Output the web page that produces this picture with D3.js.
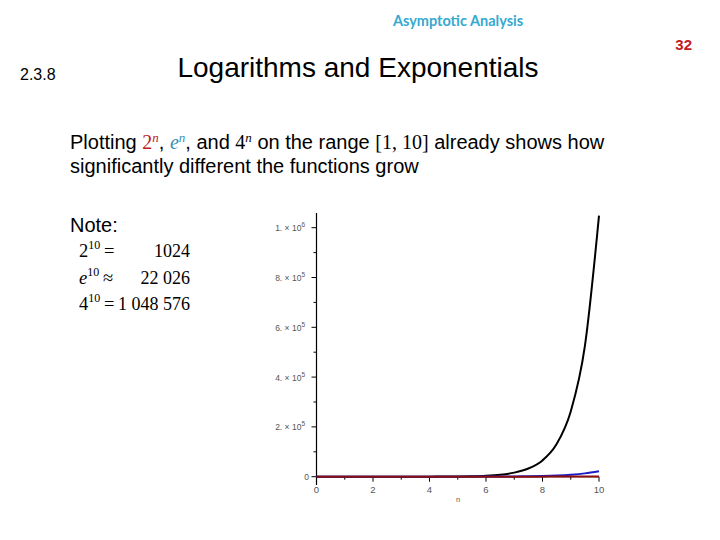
<!DOCTYPE html>
<html><head><meta charset="utf-8">
<script src="https://cdn.jsdelivr.net/npm/d3@7"></script>
<style>body{margin:0;background:#fff}svg{display:block}</style>
</head><body>
<svg id="c" width="720" height="540"></svg>
<script>
// ---- data ----
const nValues  = [0,0.5,1,1.5,2,2.5,3,3.5,4,4.5,5,5.5,6,6.5,7,7.5,8,8.5,9,9.5,10];
const twoPow   = [1,1.41,2,2.83,4,5.66,8,11.3,16,22.6,32,45.3,64,90.5,128,181,256,362,512,724,1024];
const ePow     = [1,1.65,2.72,4.48,7.39,12.2,20.1,33.1,54.6,90.0,148,245,403,665,1097,1808,2981,4915,8103,13360,22026];
const fourPow  = [1,2,4,8,16,32,64,128,256,512,1024,2048,4096,8192,16384,32768,65536,131072,262144,524288,1048576];
const seriesNames  = ["4^n","e^n","2^n"];
const seriesColors = ["#000000","#1c1cc8","#8b0f0f"];
const xTicks = [0,2,4,6,8,10];
const xMinorTicks = [1,3,5,7,9];
const yTicks = [0,200000,400000,600000,800000,1000000];
const yMinorTicks = [100000,300000,500000,700000,900000];
const yTickMantissa = ["0","2. \u00d7 10","4. \u00d7 10","6. \u00d7 10","8. \u00d7 10","1. \u00d7 10"];
const yTickExp = ["","5","5","5","5","6"];
const noteRows = [["2","10","=","1024",false],["e","10","\u2248","22 026",true],["4","10","=","1 048 576",false]];

const svg = d3.select("#c");

// ---- header ----
svg.append("text").attr("x",458).attr("y",26).attr("text-anchor","middle")
  .attr("font-family","Lato, 'Open Sans', sans-serif").attr("font-weight","bold")
  .attr("font-size",14.5).attr("fill","#36a9cf").text("Asymptotic Analysis");
svg.append("text").attr("x",692).attr("y",50).attr("text-anchor","end")
  .attr("font-family","Liberation Sans, Arial, sans-serif").attr("font-weight","bold")
  .attr("font-size",15).attr("fill","#c41a1f").text("32");
svg.append("text").attr("x",20).attr("y",80)
  .attr("font-family","Liberation Sans, Arial, sans-serif")
  .attr("font-size",16).attr("fill","#000").text("2.3.8");
svg.append("text").attr("x",358).attr("y",77).attr("text-anchor","middle")
  .attr("font-family","Liberation Sans, Arial, sans-serif")
  .attr("font-size",28).attr("fill","#000").text("Logarithms and Exponentials");

// ---- body text ----
const sans = "Liberation Sans, Arial, sans-serif";
const serif = "Liberation Serif, 'Times New Roman', serif";
const t1 = svg.append("text").attr("x",70).attr("y",149).attr("font-family",sans).attr("font-size",20).attr("fill","#000");
function seg(t, txt, opts){
  const s = t.append("tspan").text(txt);
  if(opts){ for(const k in opts) s.attr(k, opts[k]); }
  return s;
}
seg(t1,"Plotting ");
seg(t1,"2",{"font-family":serif,"fill":"#c0191e"});
seg(t1,"n",{"font-family":serif,"font-style":"italic","font-size":13,"dy":-7,"fill":"#c0191e"});
seg(t1,", ",{"dy":7});
seg(t1,"e",{"font-family":serif,"font-style":"italic","fill":"#3b8fb0"});
seg(t1,"n",{"font-family":serif,"font-style":"italic","font-size":13,"dy":-7,"fill":"#3b8fb0"});
seg(t1,", and ",{"dy":7});
seg(t1,"4",{"font-family":serif});
seg(t1,"n",{"font-family":serif,"font-style":"italic","font-size":13,"dy":-7});
seg(t1," on the range ",{"dy":7});
seg(t1,"[1, 10]",{"font-family":serif});
seg(t1," already shows how");
svg.append("text").attr("x",70).attr("y",173).attr("font-family",sans).attr("font-size",20)
  .attr("fill","#000").text("significantly different the functions grow");

svg.append("text").attr("x",70).attr("y",232).attr("font-family",sans).attr("font-size",20)
  .attr("fill","#000").text("Note:");
noteRows.forEach((r,i)=>{
  const y = 257 + i*26.5;
  const t = svg.append("text").attr("x",79).attr("y",y).attr("font-family",serif).attr("font-size",18.5).attr("fill","#000");
  seg(t,r[0],r[4]?{"font-style":"italic"}:null);
  seg(t,r[1],{"font-size":12,"dy":-8});
  seg(t,"\u2009"+r[2],{"dy":8});
  svg.append("text").attr("x",190).attr("y",y).attr("text-anchor","end").attr("font-family",serif)
    .attr("font-size",18).attr("fill","#000").text(r[3]);
});

// ---- plot ----
const x = d3.scaleLinear().domain([0,10]).range([316.5,599]);
const y = d3.scaleLinear().domain([0,1000000]).range([476.7,227.7]);
const g = svg.append("g");

// axes lines
g.append("line").attr("x1",x(0)).attr("x2",x(0)).attr("y1",213).attr("y2",485).attr("stroke","#000").attr("stroke-width",1.2);
g.append("line").attr("x1",x(0)).attr("x2",x(10)).attr("y1",y(0)).attr("y2",y(0)).attr("stroke","#000").attr("stroke-width",1.2);

const tickFont = "Liberation Sans, Arial, sans-serif";
// y ticks
yTicks.forEach((v,i)=>{
  g.append("line").attr("x1",x(0)-5).attr("x2",x(0)).attr("y1",y(v)).attr("y2",y(v)).attr("stroke","#000");
  const t = g.append("text").attr("x",i===0?309:305).attr("y",y(v)+3.5).attr("text-anchor","end")
    .attr("font-family",tickFont).attr("font-size",8.5).attr("fill","#555");
  t.append("tspan").text(yTickMantissa[i]);
  if(yTickExp[i]) t.append("tspan").attr("font-size",6.5).attr("dy",-4).text(yTickExp[i]);
});
yMinorTicks.forEach(v=>{
  g.append("line").attr("x1",x(0)-3).attr("x2",x(0)).attr("y1",y(v)).attr("y2",y(v)).attr("stroke","#000");
});
// x ticks
xTicks.forEach(v=>{
  g.append("line").attr("x1",x(v)).attr("x2",x(v)).attr("y1",y(0)).attr("y2",y(0)+5).attr("stroke","#000");
  g.append("text").attr("x",x(v)).attr("y",y(0)+16).attr("text-anchor","middle")
    .attr("font-family",tickFont).attr("font-size",9.5).attr("fill","#555").text(v);
});
xMinorTicks.forEach(v=>{
  g.append("line").attr("x1",x(v)).attr("x2",x(v)).attr("y1",y(0)).attr("y2",y(0)+3).attr("stroke","#000");
});
g.append("text").attr("x",458).attr("y",502).attr("text-anchor","middle")
  .attr("font-family",tickFont).attr("font-size",7.5).attr("fill","#555").text("n");

// curves
const seriesData = [fourPow, ePow, twoPow];
const line = d3.line().x(d=>x(d[0])).y(d=>y(d[1])).curve(d3.curveMonotoneX);
seriesData.forEach((vals,i)=>{
  g.append("path").datum(nValues.map((n,j)=>[n,vals[j]]))
    .attr("d",line).attr("fill","none").attr("stroke",seriesColors[i]).attr("stroke-width",2)
    .attr("class","series-"+seriesNames[i]);
});
</script>
</body></html>
